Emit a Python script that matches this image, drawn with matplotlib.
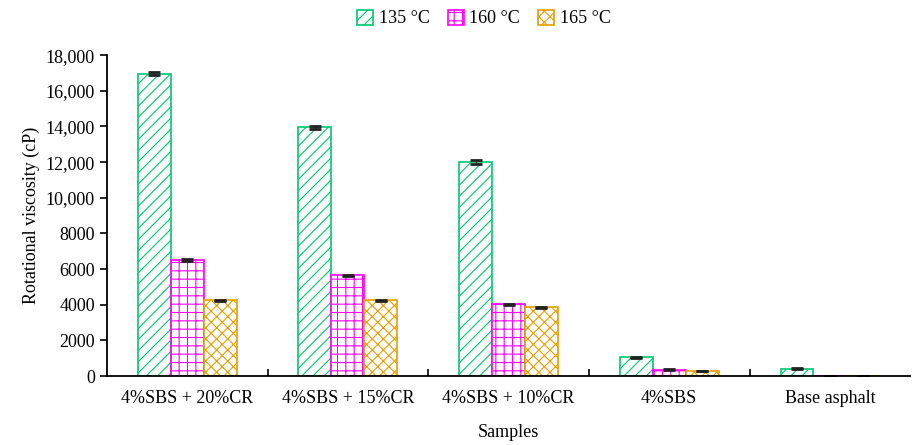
import matplotlib.pyplot as plt
import numpy as np
from matplotlib.ticker import FuncFormatter, FixedLocator

plt.rcParams['font.family'] = ['Liberation Serif', 'DejaVu Serif']
plt.rcParams['hatch.linewidth'] = 0.8

samples = ['4%SBS + 20%CR', '4%SBS + 15%CR', '4%SBS + 10%CR', '4%SBS', 'Base asphalt']
temps = ['135 °C', '160 °C', '165 °C']
v135 = [16950, 13950, 12030, 1050, 420]
v160 = [6500, 5650, 4020, 350, 0]
v165 = [4250, 4250, 3850, 280, 0]
e135 = [80, 70, 110, 40, 30]
e160 = [50, 40, 30, 20, 0]
e165 = [30, 30, 30, 20, 0]

colors = ['#00c86e', '#ff00ff', '#e6a000']
hatches = ['///', '++', 'xxx']

fig = plt.figure(figsize=(9.13, 4.45), dpi=100)
ax = fig.add_axes([0.117, 0.155, 0.88, 0.721])

x = np.arange(len(samples))
w = 0.205
series = [(v135, e135), (v160, e160), (v165, e165)]
for i, (vals, errs) in enumerate(series):
    ax.bar(x + (i - 1) * w, vals, w, yerr=errs, color='white', edgecolor=colors[i],
           hatch=hatches[i], linewidth=1.2, label=temps[i],
           error_kw=dict(ecolor='#222222', capsize=4, elinewidth=1, capthick=2))

ax.set_xlim(-0.5, len(samples) - 0.5)
ax.set_ylim(0, 18000)
ax.set_yticks(np.arange(0, 18001, 2000))
ax.yaxis.set_major_formatter(FuncFormatter(lambda v, p: f'{int(v):,}' if v >= 10000 else f'{int(v)}'))
ax.set_xticks(x)
ax.set_xticklabels(samples)
ax.xaxis.set_minor_locator(FixedLocator(np.arange(0.5, len(samples) - 0.5, 1)))
ax.tick_params(axis='x', which='major', length=0, labelsize=13, pad=10)
ax.tick_params(axis='x', which='minor', direction='in', length=5, width=1.2)
ax.tick_params(axis='y', direction='out', length=5, width=1.2, labelsize=13)

for s in ['top', 'right']:
    ax.spines[s].set_visible(False)
for s in ['left', 'bottom']:
    ax.spines[s].set_linewidth(1.3)

ax.set_xlabel('Samples', fontsize=13, labelpad=12)
ax.set_ylabel('Rotational viscosity (cP)', fontsize=13)

fig.legend(loc='upper center', bbox_to_anchor=(0.53, 1.015), ncol=3, frameon=False,
           fontsize=13, handlelength=0.9, handleheight=0.9, columnspacing=1.0,
           handletextpad=0.3)

fig.savefig('out.png', dpi=100)
